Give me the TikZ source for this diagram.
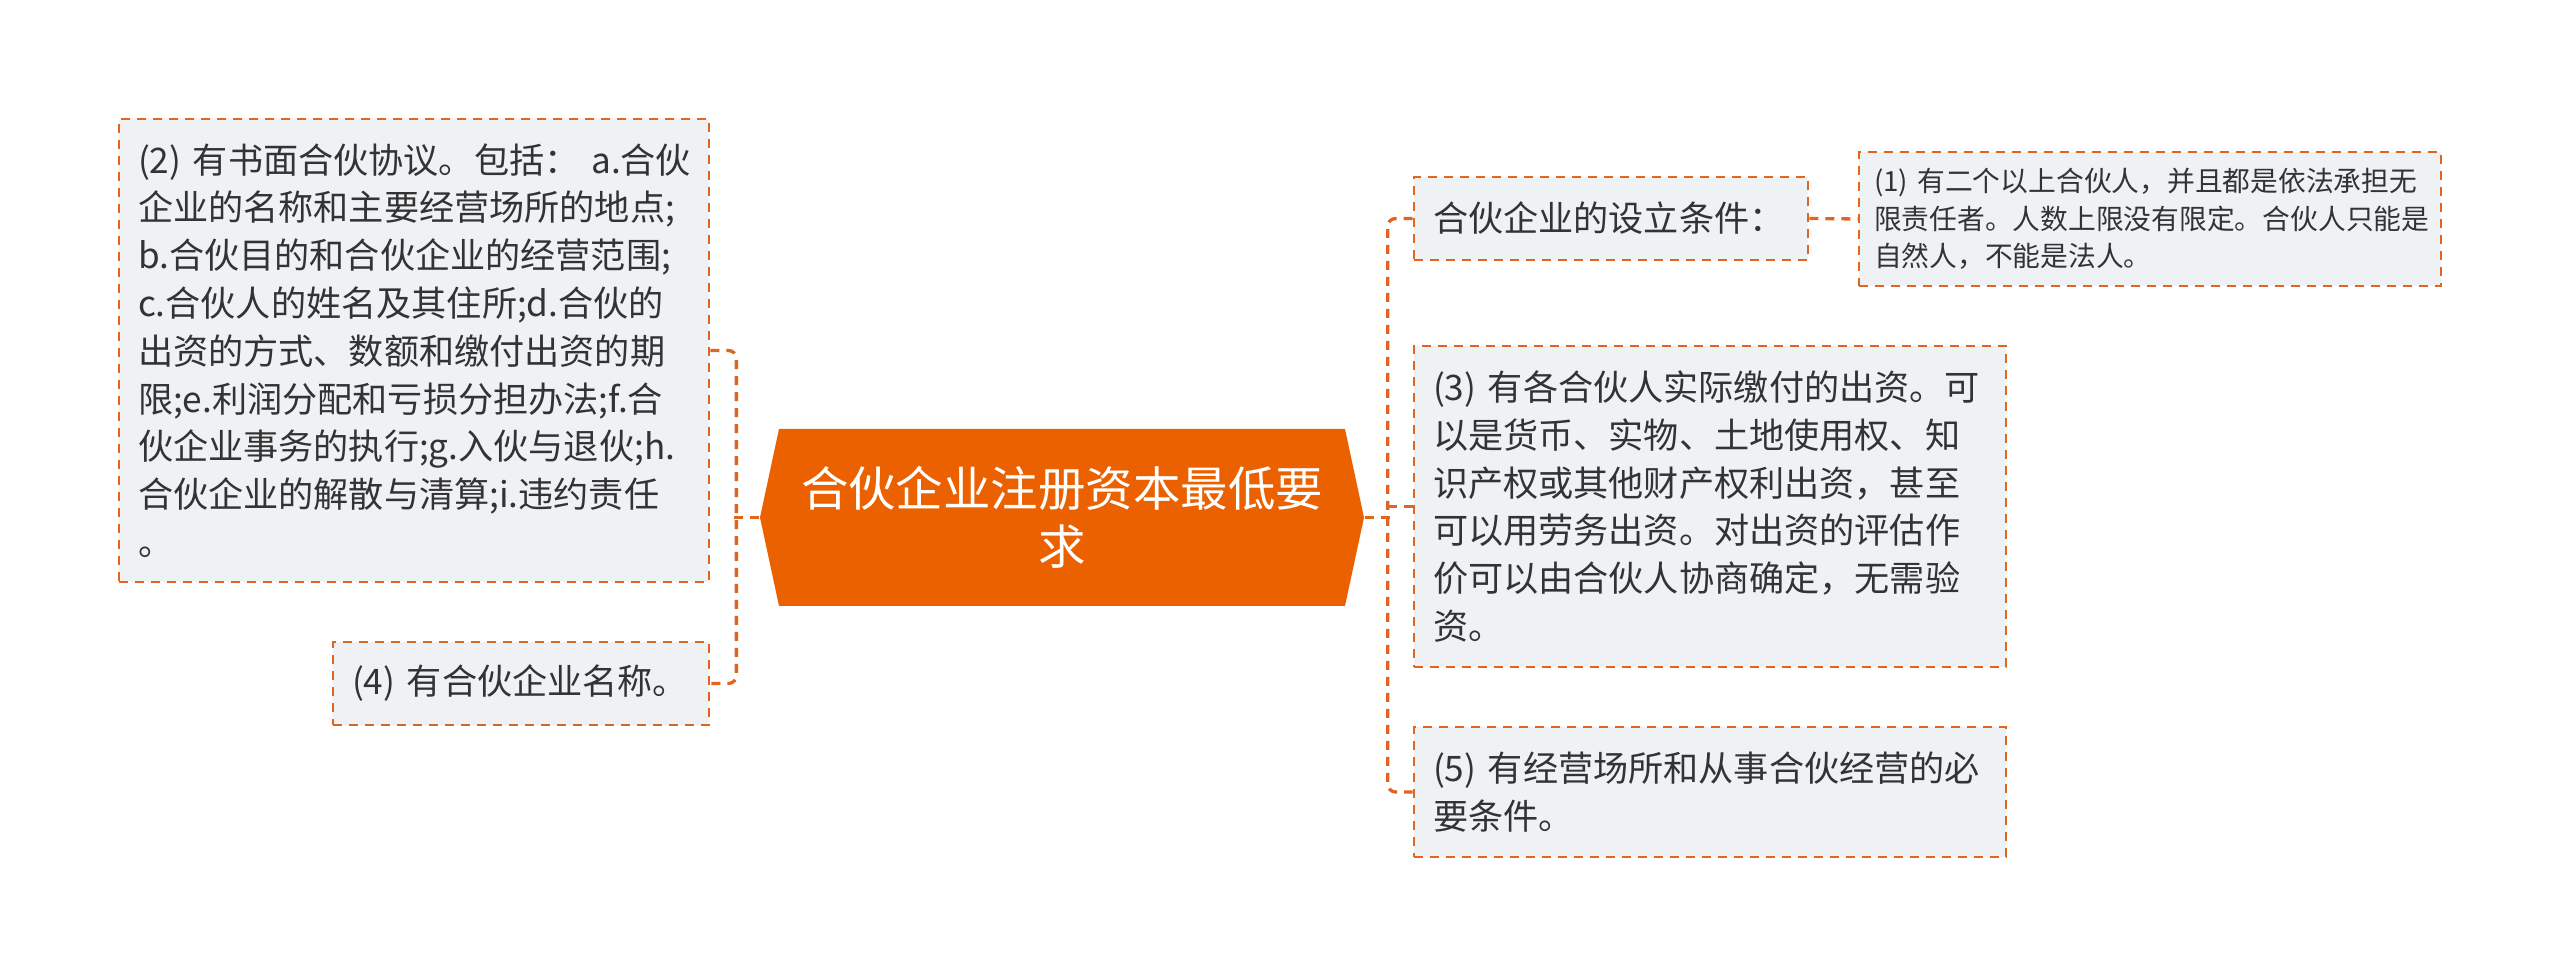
\documentclass[tikz,border=0pt]{standalone}
\usepackage{fontspec}
\setmainfont{Noto Sans CJK SC}
\usetikzlibrary{calc}
\definecolor{hubfill}{HTML}{EB6100}
\definecolor{dashorange}{HTML}{E0651F}
\definecolor{boxfill}{HTML}{EFF2F5}
\definecolor{inktext}{HTML}{333333}

\begin{document}
\begin{tikzpicture}[x=0.1mm, y=-0.1mm,
    topic/.style={draw=dashorange, fill=boxfill, line width=0.27mm, dash pattern=on 0.9mm off 0.7mm,
        text=inktext, align=left, inner xsep=1.9mm, inner ysep=0mm, font=\fontsize{10}{13.6}\selectfont},
    hub/.style={inner sep=0mm, text=white, align=center, minimum width=60.4mm, minimum height=17.7mm,
        font=\fontsize{13.5}{16.5}\selectfont},
    link/.style={draw=dashorange, line width=0.33mm, dash pattern=on 0.9mm off 0.7mm, rounded corners=0.8mm}]
    \useasboundingbox (0,0) rectangle (2560,976);
    % centre
    \fill[hubfill] (779,429) -- (1345,429) -- (1364,517.5) -- (1345,606) -- (779,606) -- (760,517.5) -- cycle;
    \node[hub] (hub) at (1062,517.5) {合伙企业注册资本最低要\\求};
    % left side
    \node[topic, minimum width=59mm, minimum height=46.3mm, text width=55.2mm] (b2) at (414,350.5)
        {(2)~有书面合伙协议。包括：~a.合伙\\企业的名称和主要经营场所的地点;\\b.合伙目的和合伙企业的经营范围;\\c.合伙人的姓名及其住所;d.合伙的\\出资的方式、数额和缴付出资的期\\限;e.利润分配和亏损分担办法;f.合\\伙企业事务的执行;g.入伙与退伙;h.\\合伙企业的解散与清算;i.违约责任\\。};
    \node[topic, minimum width=37.6mm, minimum height=8.3mm, text width=33.8mm] (b4) at (521,683.5)
        {(4)~有合伙企业名称。};
    % right side
    \node[topic, minimum width=39.4mm, minimum height=8.3mm, text width=35.6mm] (cond) at (1611,218.5)
        {合伙企业的设立条件：};
    \node[topic, minimum width=58.2mm, minimum height=13.4mm, text width=55.2mm, inner xsep=1.5mm,
        font=\fontsize{7.9}{10.6}\selectfont] (b1) at (2150,219)
        {(1)~有二个以上合伙人，并且都是依法承担无\\限责任者。人数上限没有限定。合伙人只能是\\自然人，不能是法人。};
    \node[topic, minimum width=59.2mm, minimum height=32.1mm, text width=55.4mm] (b3) at (1710,506.5)
        {(3)~有各合伙人实际缴付的出资。可\\以是货币、实物、土地使用权、知\\识产权或其他财产权利出资，甚至\\可以用劳务出资。对出资的评估作\\价可以由合伙人协商确定，无需验\\资。};
    \node[topic, minimum width=59.2mm, minimum height=13mm, text width=55.4mm] (b5) at (1710,792)
        {(5)~有经营场所和从事合伙经营的必\\要条件。};
    % connectors
    \draw[link] (hub.west) -- ++(-25,0);
    \draw[link] (b2.east) -- ++(26,0) |- (b4.east);
    \draw[link] (hub.east) -- ++(25,0);
    \draw[link] (cond.west) -- ++(-25,0) |- (b5.west);
    \draw[link] (b3.west) -- ++(-25,0);
    \draw[link] (cond.east) -- (b1.west);
\end{tikzpicture}
\end{document}
